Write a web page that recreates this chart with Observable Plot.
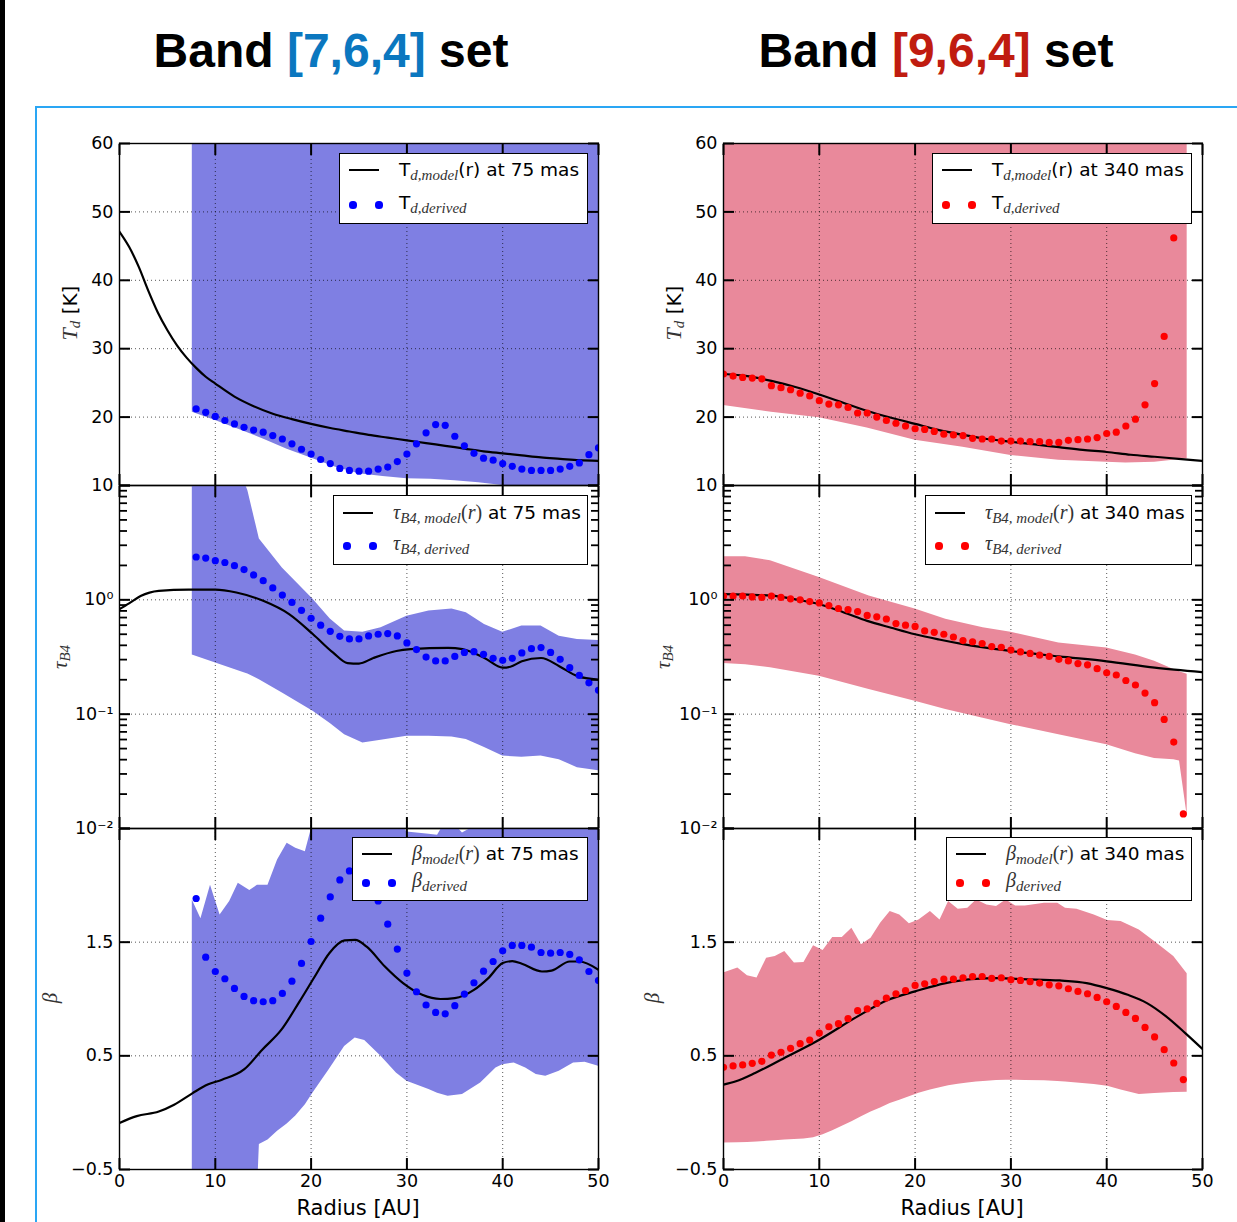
<!DOCTYPE html>
<html>
<head>
<meta charset="utf-8">
<script src="https://cdn.jsdelivr.net/npm/d3@7"></script>
<script src="https://cdn.jsdelivr.net/npm/@observablehq/plot@0.6"></script>
<style>
  body { margin: 0; background: #fff; }
  #wrap { position: relative; width: 1237px; height: 1222px; overflow: hidden; background: #fff; font-family: "DejaVu Sans", sans-serif; color: #000; }
  .title { position: absolute; top: 27px; font: bold 48px "Liberation Sans", Arial, sans-serif; line-height: 48px; text-align: center; white-space: nowrap; }
  .legend { position: absolute; background: #fff; border: 1.4px solid #000; box-sizing: border-box; z-index: 5; }
  .legend .txt { position: absolute; left: 59px; transform: translateY(-52%); font-size: 18.5px; white-space: nowrap; }
  .sub { font-family: "Liberation Serif", serif; font-style: italic; font-size: 15px; position: relative; top: 4px; color: #333; }
  .mi { font-family: "Liberation Serif", serif; font-style: italic; color: #333; font-size: 20px; }
  .ms { font-family: "Liberation Serif", serif; color: #333; font-size: 20px; }
  .ylab { position: absolute; transform: translate(-50%, -50%) rotate(-90deg); white-space: nowrap; font-size: 20px; }
  .xlab { position: absolute; transform: translate(-50%, -50%); white-space: nowrap; font-size: 21px; }
</style>
</head>
<body>
<div id="wrap">
  <div style="position:absolute;left:0;top:0;width:5px;height:1222px;background:#000"></div>
  <div style="position:absolute;left:35px;top:106px;width:1210px;height:1130px;border-left:2.6px solid #2aa6f4;border-top:2.6px solid #2aa6f4;"></div>
  <div class="title" style="left:0;width:662px">Band <span style="color:#0b77bf">[7,6,4]</span> set</div>
  <div class="title" style="left:636px;width:600px">Band <span style="color:#c01c10">[9,6,4]</span> set</div>
</div>
<script>
// ---------- axes ----------
const xTicks = [0, 10, 20, 30, 40, 50];
const xGrid = [10, 20, 30, 40];
const tdTicks = [10, 20, 30, 40, 50, 60];
const tdGrid = [20, 30, 40, 50];
const tauTicks = [0.01, 0.1, 1, 10];
const tauLabels = [0.01, 0.1, 1];
const tauGrid = [0.1, 1];
const tauMinor = [0.02,0.03,0.04,0.05,0.06,0.07,0.08,0.09,0.2,0.3,0.4,0.5,0.6,0.7,0.8,0.9,2,3,4,5,6,7,8,9];
const betaTicks = [-0.5, 0.5, 1.5, 2.5];
const betaLabels = [-0.5, 0.5, 1.5];
const betaGrid = [0.5, 1.5];

// ---------- Band [7,6,4] : Td ----------
const tdL_modelR = [0,1,2,3,4,5,6,7,8,9,10,12,14,16,18,20,22,24,26,28,30,32,34,36,38,40,42,44,46,48,50];
const tdL_modelV = [47.1,44.9,42.0,38.5,35.3,32.7,30.5,28.7,27.2,25.9,24.9,23.0,21.6,20.5,19.7,19.0,18.4,17.9,17.4,17.0,16.6,16.2,15.8,15.4,15.0,14.7,14.4,14.1,13.9,13.7,13.6];
const tdL_derivedR = [8,9,10,11,12,13,14,15,16,17,18,19,20,21,22,23,24,25,26,27,28,29,30,31,32,33,34,35,36,37,38,39,40,41,42,43,44,45,46,47,48,49,50];
const tdL_derivedV = [21.2,20.7,20.1,19.5,19.0,18.5,18.1,17.8,17.3,16.8,16.1,15.3,14.6,13.8,13.2,12.5,12.2,12.1,12.1,12.4,12.7,13.5,14.6,16.1,17.7,18.9,18.8,17.2,15.8,14.7,14.0,13.7,13.2,12.8,12.4,12.2,12.2,12.2,12.4,12.8,13.3,14.5,15.5];
const tdL_bandR = [7.6,10,12.5,15,17.5,20.2,22.5,25,27.5,30,32.5,35,37.5,40,45,50];
const tdL_bandLo = [20.7,19.5,18.2,16.8,15.3,13.9,12.7,11.7,11.3,11.0,10.9,10.7,10.4,10.0,9.3,8.7];
const tdL_bandHi = [80,80,80,80,80,80,80,80,80,80,80,80,80,80,80,80];

// ---------- Band [9,6,4] : Td ----------
const tdR_modelR = [0,2.5,5,7.5,10,12.5,15,17.5,20,22.5,25,27.5,30,32.5,35,37.5,40,42.5,45,47.5,50];
const tdR_modelV = [26.3,26.0,25.3,24.4,23.3,22.1,20.9,19.9,19.0,18.1,17.4,16.8,16.4,16.0,15.6,15.2,14.9,14.5,14.2,13.9,13.6];
const tdR_derivedR = [0,1,2,3,4,5,6,7,8,9,10,11,12,13,14,15,16,17,18,19,20,21,22,23,24,25,26,27,28,29,30,31,32,33,34,35,36,37,38,39,40,41,42,43,44,45,46,47];
const tdR_derivedV = [26.3,26.0,25.8,25.7,25.6,24.6,24.3,24.0,23.5,23.1,22.4,21.9,21.8,21.4,20.6,20.6,20.0,19.5,19.1,18.7,18.3,18.2,17.9,17.5,17.4,17.3,16.9,16.8,16.8,16.5,16.5,16.5,16.4,16.4,16.3,16.3,16.6,16.7,16.8,17.0,17.6,17.8,18.7,19.7,21.8,24.9,31.8,46.2];
const tdR_bandR = [0,5,10,15,20,25,30,35,40,42,45,48.4];
const tdR_bandLo = [21.7,20.7,19.9,18.4,16.6,15.6,14.4,13.7,13.4,13.3,13.4,13.9];
const tdR_bandHi = [80,80,80,80,80,80,80,80,80,80,80,80];

// ---------- Band [7,6,4] : tau_B4 ----------
const tauL_modelR = [0,1,2.2,4.1,7.2,10,12.2,15,17.7,20.2,22.3,23.8,25,26.5,28.9,30.4,34.3,35.8,38.1,40,40.8,42,44,45.9,47.8,50];
const tauL_modelV = [0.83,0.93,1.08,1.2,1.23,1.23,1.16,0.98,0.75,0.50,0.345,0.28,0.277,0.31,0.357,0.37,0.38,0.37,0.31,0.255,0.26,0.29,0.31,0.263,0.215,0.20];
const tauL_derivedR = [8,9,10,11,12,13,14,15,16,17,18,19,20,21,22,23,24,25,26,27,28,29,30,31,32,33,34,35,36,37,38,39,40,41,42,43,44,45,46,47,48,49,50];
const tauL_derivedV = [2.37,2.32,2.20,2.12,1.99,1.84,1.65,1.47,1.27,1.10,0.95,0.81,0.69,0.60,0.53,0.48,0.455,0.455,0.483,0.50,0.507,0.483,0.42,0.367,0.316,0.292,0.292,0.32,0.347,0.352,0.334,0.308,0.296,0.308,0.343,0.374,0.382,0.347,0.302,0.255,0.218,0.188,0.162];
const tauL_bandR = [7.6,13.0,13.4,14.6,17,20.2,22,23.5,25.4,27.3,30,32.3,34.7,36.2,38.1,40,42,44,45.9,47.8,50];
const tauL_bandLo = [0.33,0.23,0.225,0.2,0.153,0.106,0.083,0.066,0.056,0.059,0.064,0.064,0.063,0.060,0.051,0.043,0.042,0.043,0.040,0.034,0.032];
const tauL_bandHi = [20,11,9,3.4,1.9,1.01,0.68,0.535,0.52,0.57,0.72,0.80,0.83,0.77,0.61,0.52,0.59,0.59,0.48,0.45,0.44];

// ---------- Band [9,6,4] : tau_B4 ----------
const tauR_modelR = [0,2.5,5,7.5,10,12.5,15,17.5,20,22.5,25,30,35,40,45,50];
const tauR_modelV = [1.12,1.11,1.09,1.01,0.916,0.78,0.654,0.57,0.50,0.45,0.41,0.357,0.32,0.29,0.255,0.233];
const tauR_derivedR = [0,1,2,3,4,5,6,7,8,9,10,11,12,13,14,15,16,17,18,19,20,21,22,23,24,25,26,27,28,29,30,31,32,33,34,35,36,37,38,39,40,41,42,43,44,45,46,47,48];
const tauR_derivedV = [1.08,1.08,1.08,1.06,1.05,1.08,1.05,1.02,1.0,0.966,0.94,0.89,0.84,0.82,0.79,0.73,0.71,0.68,0.62,0.60,0.585,0.535,0.52,0.50,0.473,0.44,0.43,0.415,0.39,0.385,0.364,0.35,0.34,0.328,0.32,0.302,0.292,0.277,0.27,0.25,0.23,0.22,0.197,0.18,0.153,0.126,0.09,0.057,0.0134];
const tauR_bandR = [0,2.3,4.9,10,15.2,20,23.2,27.1,30,35,40,43,45,47,47.6,48.4];
const tauR_bandLo = [0.277,0.27,0.255,0.215,0.164,0.13,0.11,0.092,0.081,0.066,0.054,0.045,0.041,0.040,0.039,0.013];
const tauR_bandHi = [2.38,2.38,2.2,1.57,1.08,0.83,0.676,0.57,0.52,0.42,0.38,0.33,0.29,0.246,0.235,0.223];

// ---------- Band [7,6,4] : beta ----------
const betaL_modelR = [0,1.8,4.1,5.7,7.6,9.2,10.7,13,14.9,16.9,18.8,20.4,21.9,23.5,24.6,25.8,27.7,29.6,31.6,33.5,35,37,38.5,40,41,42,44.1,45.1,47,48,50];
const betaL_modelV = [-0.09,-0.03,0.01,0.07,0.17,0.247,0.29,0.38,0.554,0.73,0.979,1.2,1.403,1.515,1.52,1.46,1.286,1.14,1.037,1.0,1.008,1.08,1.184,1.316,1.333,1.31,1.242,1.25,1.33,1.33,1.257];
const betaL_derivedR = [8,9,10,11,12,13,14,15,16,17,18,19,20,21,22,23,24,25,26,27,28,29,30,31,32,33,34,35,36,37,38,39,40,41,42,43,44,45,46,47,48,49,50];
const betaL_derivedV = [1.884,1.368,1.242,1.178,1.093,1.023,0.985,0.976,0.985,1.049,1.157,1.313,1.506,1.711,1.898,2.048,2.127,2.16,2.05,1.863,1.658,1.439,1.228,1.064,0.947,0.882,0.87,0.941,1.043,1.143,1.245,1.33,1.424,1.471,1.471,1.456,1.409,1.403,1.409,1.392,1.345,1.242,1.163];
const betaL_bandR = [7.6,8.5,9.5,10.5,11.5,12.4,13.6,14.4,14.6,15.5,16.5,17.5,18.4,19.4,20.2,21.9,23.5,24.6,25.6,27.3,28.9,30,32.3,33.2,34.3,35.8,37.7,39.3,40,41.2,42.4,43.5,44.5,45.9,47.4,48.6,50];
const betaL_bandLo = [-0.7,-0.7,-0.7,-0.7,-0.7,-0.7,-0.7,-0.7,-0.28,-0.24,-0.163,-0.1,-0.03,0.07,0.174,0.379,0.583,0.657,0.636,0.496,0.349,0.276,0.203,0.17,0.144,0.159,0.261,0.393,0.422,0.437,0.393,0.335,0.32,0.364,0.437,0.443,0.408];
const betaL_bandHi = [1.872,1.705,2.0,1.74,1.857,2.018,1.954,2.0,2.0,2.0,2.223,2.37,2.326,2.296,2.55,2.6,2.6,2.6,2.6,2.6,2.6,2.47,2.45,2.44,2.6,2.46,2.55,2.6,2.6,2.6,2.6,2.6,2.6,2.6,2.6,2.6,2.6];

// ---------- Band [9,6,4] : beta ----------
const betaR_modelR = [0,1.3,3.3,6,10,14,17.2,20,23.2,25.9,28.7,31.1,35.1,37.9,40,42.2,44.2,46.2,48.2,50];
const betaR_modelV = [0.247,0.276,0.349,0.466,0.642,0.847,0.993,1.067,1.14,1.175,1.184,1.175,1.163,1.14,1.096,1.037,0.964,0.847,0.7,0.56];
const betaR_derivedR = [0,1,2,3,4,5,6,7,8,9,10,11,12,13,14,15,16,17,18,19,20,21,22,23,24,25,26,27,28,29,30,31,32,33,34,35,36,37,38,39,40,41,42,43,44,45,46,47,48];
const betaR_derivedV = [0.399,0.411,0.42,0.434,0.452,0.507,0.531,0.566,0.607,0.639,0.701,0.756,0.783,0.827,0.897,0.914,0.961,1.008,1.046,1.075,1.119,1.134,1.154,1.175,1.175,1.187,1.198,1.198,1.181,1.187,1.169,1.163,1.152,1.14,1.125,1.116,1.09,1.067,1.046,1.014,0.976,0.935,0.882,0.829,0.75,0.666,0.554,0.437,0.291];
const betaR_bandR = [0,1.5,2.5,3.5,4.5,5.4,6.4,7.4,8.4,9.4,10.4,11.4,12.4,13.4,14.4,15.4,16.4,17.4,18.4,19.4,20.4,21.6,22.6,23.5,24.5,25.5,26.4,27.5,28.5,29.5,30.5,31.5,33.5,34.9,35.7,36.9,38.7,40.1,41.5,43.4,45,47,48.4];
const betaR_bandLo = [-0.266,-0.264,-0.262,-0.259,-0.252,-0.246,-0.24,-0.236,-0.232,-0.22,-0.195,-0.16,-0.12,-0.08,-0.035,0.005,0.04,0.08,0.11,0.14,0.17,0.2,0.22,0.236,0.25,0.262,0.27,0.277,0.282,0.285,0.285,0.284,0.281,0.275,0.27,0.262,0.248,0.232,0.2,0.159,0.168,0.177,0.179];
const betaR_bandHi = [1.228,1.272,1.204,1.184,1.359,1.374,1.418,1.316,1.321,1.468,1.427,1.541,1.541,1.623,1.477,1.535,1.667,1.769,1.74,1.661,1.696,1.769,1.696,1.857,1.79,1.799,1.872,1.828,1.813,1.872,1.819,1.819,1.843,1.843,1.799,1.79,1.74,1.69,1.682,1.608,1.506,1.374,1.222];

// ---------- colours ----------
const blueBand = "#7f7fe3", redBand = "#e9899b";
const blueDot = "#0000ff", redDot = "#ff0000";

const rows = (rs, vs) => rs.map((r, i) => ({r, v: vs[i]}));
const bandRows = (rs, lo, hi) => rs.map((r, i) => ({r, lo: lo[i], hi: hi[i]}));

const wrap = document.getElementById("wrap");
const plotTops = [143, 485, 828], plotBottoms = [485, 828, 1169];
const colLeft = [0, 604];

const tauFmt = d => d === 1 ? "10\u2070" : d === 0.1 ? "10\u207B\u00B9" : d === 0.01 ? "10\u207B\u00B2" : "";
const betaFmt = d => d < 0 ? "\u2212" + Math.abs(d).toFixed(1) : d.toFixed(1);

function panel(p) {
  const mt = 22, mb = 45;
  const top = plotTops[p.row], bottom = plotBottoms[p.row];
  const H = bottom - top + mt + mb;
  const marks = [
    Plot.areaY(bandRows(...p.band), {x: "r", y1: "lo", y2: "hi", fill: p.fill, clip: true, curve: "linear"}),
    Plot.gridX(xGrid, {stroke: "#000", strokeOpacity: 0.75, strokeDasharray: "1,3", strokeWidth: 0.9}),
    Plot.gridY(p.yGrid, {stroke: "#000", strokeOpacity: 0.75, strokeDasharray: "1,3", strokeWidth: 0.9}),
    Plot.line(rows(...p.model), {x: "r", y: "v", stroke: "#000", strokeWidth: 2.2, clip: true, curve: "monotone-x"}),
    Plot.dot(rows(...p.derived), {x: "r", y: "v", r: 3.6, fill: p.dot, stroke: "none", clip: true}),
    Plot.frame({stroke: "#000", strokeWidth: 1.4}),
    Plot.axisX(xTicks, {anchor: "bottom", tickSize: -11, strokeWidth: 2, tickFormat: () => "", label: null}),
    Plot.axisX(xTicks, {anchor: "top", tickSize: -11, strokeWidth: 2, tickFormat: () => "", label: null}),
    Plot.axisY(p.yTicks, {anchor: "left", tickSize: -11, strokeWidth: 2, tickFormat: () => "", label: null}),
    Plot.axisY(p.yTicks, {anchor: "right", tickSize: -11, strokeWidth: 2, tickFormat: () => "", label: null}),
    Plot.axisY(p.yLabels, {anchor: "left", tickSize: 0, tickPadding: 6, tickFormat: p.yFmt, label: null, fontSize: 17.5})
  ];
  if (p.minor) {
    marks.push(Plot.axisY(p.minor, {anchor: "left", tickSize: -8, strokeWidth: 1.8, tickFormat: () => "", label: null}));
    marks.push(Plot.axisY(p.minor, {anchor: "right", tickSize: -8, strokeWidth: 1.8, tickFormat: () => "", label: null}));
  }
  if (p.showX) {
    marks.push(Plot.axisX(xTicks, {anchor: "bottom", tickSize: 0, tickPadding: 5, tickFormat: d => String(d), label: null, fontSize: 17.5}));
  }
  const chart = Plot.plot({
    width: 620, height: H,
    marginLeft: 119, marginRight: 22, marginTop: mt, marginBottom: mb,
    x: {domain: [0, 50], label: null},
    y: {type: p.yType, domain: p.yDomain, label: null},
    style: {background: "transparent", overflow: "visible", fontFamily: "DejaVu Sans, sans-serif", fontSize: "17.5px", color: "#000"},
    marks
  });
  chart.style.position = "absolute";
  chart.style.left = colLeft[p.col] + "px";
  chart.style.top = (top - mt) + "px";
  chart.style.maxWidth = "none";
  wrap.appendChild(chart);
}

const panels = [
  {col: 0, row: 0, yType: "linear", yDomain: [10, 60], yTicks: tdTicks, yLabels: tdTicks, yGrid: tdGrid, yFmt: d => String(d),
   band: [tdL_bandR, tdL_bandLo, tdL_bandHi], model: [tdL_modelR, tdL_modelV], derived: [tdL_derivedR, tdL_derivedV], fill: blueBand, dot: blueDot},
  {col: 1, row: 0, yType: "linear", yDomain: [10, 60], yTicks: tdTicks, yLabels: tdTicks, yGrid: tdGrid, yFmt: d => String(d),
   band: [tdR_bandR, tdR_bandLo, tdR_bandHi], model: [tdR_modelR, tdR_modelV], derived: [tdR_derivedR, tdR_derivedV], fill: redBand, dot: redDot},
  {col: 0, row: 1, yType: "log", yDomain: [0.01, 10], yTicks: tauTicks, yLabels: tauLabels, yGrid: tauGrid, yFmt: tauFmt, minor: tauMinor,
   band: [tauL_bandR, tauL_bandLo, tauL_bandHi], model: [tauL_modelR, tauL_modelV], derived: [tauL_derivedR, tauL_derivedV], fill: blueBand, dot: blueDot},
  {col: 1, row: 1, yType: "log", yDomain: [0.01, 10], yTicks: tauTicks, yLabels: tauLabels, yGrid: tauGrid, yFmt: tauFmt, minor: tauMinor,
   band: [tauR_bandR, tauR_bandLo, tauR_bandHi], model: [tauR_modelR, tauR_modelV], derived: [tauR_derivedR, tauR_derivedV], fill: redBand, dot: redDot},
  {col: 0, row: 2, yType: "linear", yDomain: [-0.5, 2.5], yTicks: betaTicks, yLabels: betaLabels, yGrid: betaGrid, yFmt: betaFmt, showX: true,
   band: [betaL_bandR, betaL_bandLo, betaL_bandHi], model: [betaL_modelR, betaL_modelV], derived: [betaL_derivedR, betaL_derivedV], fill: blueBand, dot: blueDot},
  {col: 1, row: 2, yType: "linear", yDomain: [-0.5, 2.5], yTicks: betaTicks, yLabels: betaLabels, yGrid: betaGrid, yFmt: betaFmt, showX: true,
   band: [betaR_bandR, betaR_bandLo, betaR_bandHi], model: [betaR_modelR, betaR_modelV], derived: [betaR_derivedR, betaR_derivedV], fill: redBand, dot: redDot}
];
panels.forEach(panel);

// ---------- legends ----------
const sub = s => `<span class="sub">${s}</span>`;
const mi = s => `<span class="mi">${s}</span>`;
const rr = `<span class="ms">(<i>r</i>)</span>`;
function legend(x, y, w, h, y1, y2, dotColor, t1, t2) {
  const d = document.createElement("div");
  d.className = "legend";
  Object.assign(d.style, {left: x + "px", top: y + "px", width: w + "px", height: h + "px"});
  d.innerHTML =
    `<div style="position:absolute;left:9px;top:${y1 - 1}px;width:30px;height:2.2px;background:#000"></div>` +
    `<div style="position:absolute;left:${13 - 3.6}px;top:${y2 - 3.6}px;width:7.2px;height:7.2px;border-radius:50%;background:${dotColor}"></div>` +
    `<div style="position:absolute;left:${39 - 3.6}px;top:${y2 - 3.6}px;width:7.2px;height:7.2px;border-radius:50%;background:${dotColor}"></div>` +
    `<div class="txt" style="top:${y1}px">${t1}</div>` +
    `<div class="txt" style="top:${y2 - 2}px">${t2}</div>`;
  wrap.appendChild(d);
}
legend(339, 153, 249, 71, 16, 51, blueDot, `T${sub("d,model")}(r) at 75 mas`, `T${sub("d,derived")}`);
legend(932, 153, 260, 71, 16, 51, redDot, `T${sub("d,model")}(r) at 340 mas`, `T${sub("d,derived")}`);
legend(333, 495, 255, 70, 17, 50, blueDot, `${mi("τ")}${sub("B4, model")}${rr} at 75 mas`, `${mi("τ")}${sub("B4, derived")}`);
legend(925, 495, 267, 70, 17, 50, redDot, `${mi("τ")}${sub("B4, model")}${rr} at 340 mas`, `${mi("τ")}${sub("B4, derived")}`);
legend(352, 837, 236, 64, 16, 45, blueDot, `${mi("β")}${sub("model")}${rr} at 75 mas`, `${mi("β")}${sub("derived")}`);
legend(946, 837, 246, 64, 16, 45, redDot, `${mi("β")}${sub("model")}${rr} at 340 mas`, `${mi("β")}${sub("derived")}`);

// ---------- axis titles ----------
function label(cls, x, y, html) {
  const d = document.createElement("div");
  d.className = cls;
  d.style.left = x + "px"; d.style.top = y + "px";
  d.innerHTML = html;
  wrap.appendChild(d);
}
const tdLab = `<span class="mi" style="font-size:22px">T</span><span class="sub" style="top:3px">d</span> [K]`;
const tauLab = `<span class="mi" style="font-size:21px">τ</span><span class="sub" style="top:3px">B4</span>`;
const betaLab = `<span class="mi" style="font-size:21px">β</span>`;
label("ylab", 70, 313, tdLab);
label("ylab", 674, 313, tdLab);
label("ylab", 60, 657, tauLab);
label("ylab", 663, 657, tauLab);
label("ylab", 50, 998, betaLab);
label("ylab", 652, 998, betaLab);
label("xlab", 358, 1208, "Radius [AU]");
label("xlab", 962, 1208, "Radius [AU]");
</script>
</body>
</html>
